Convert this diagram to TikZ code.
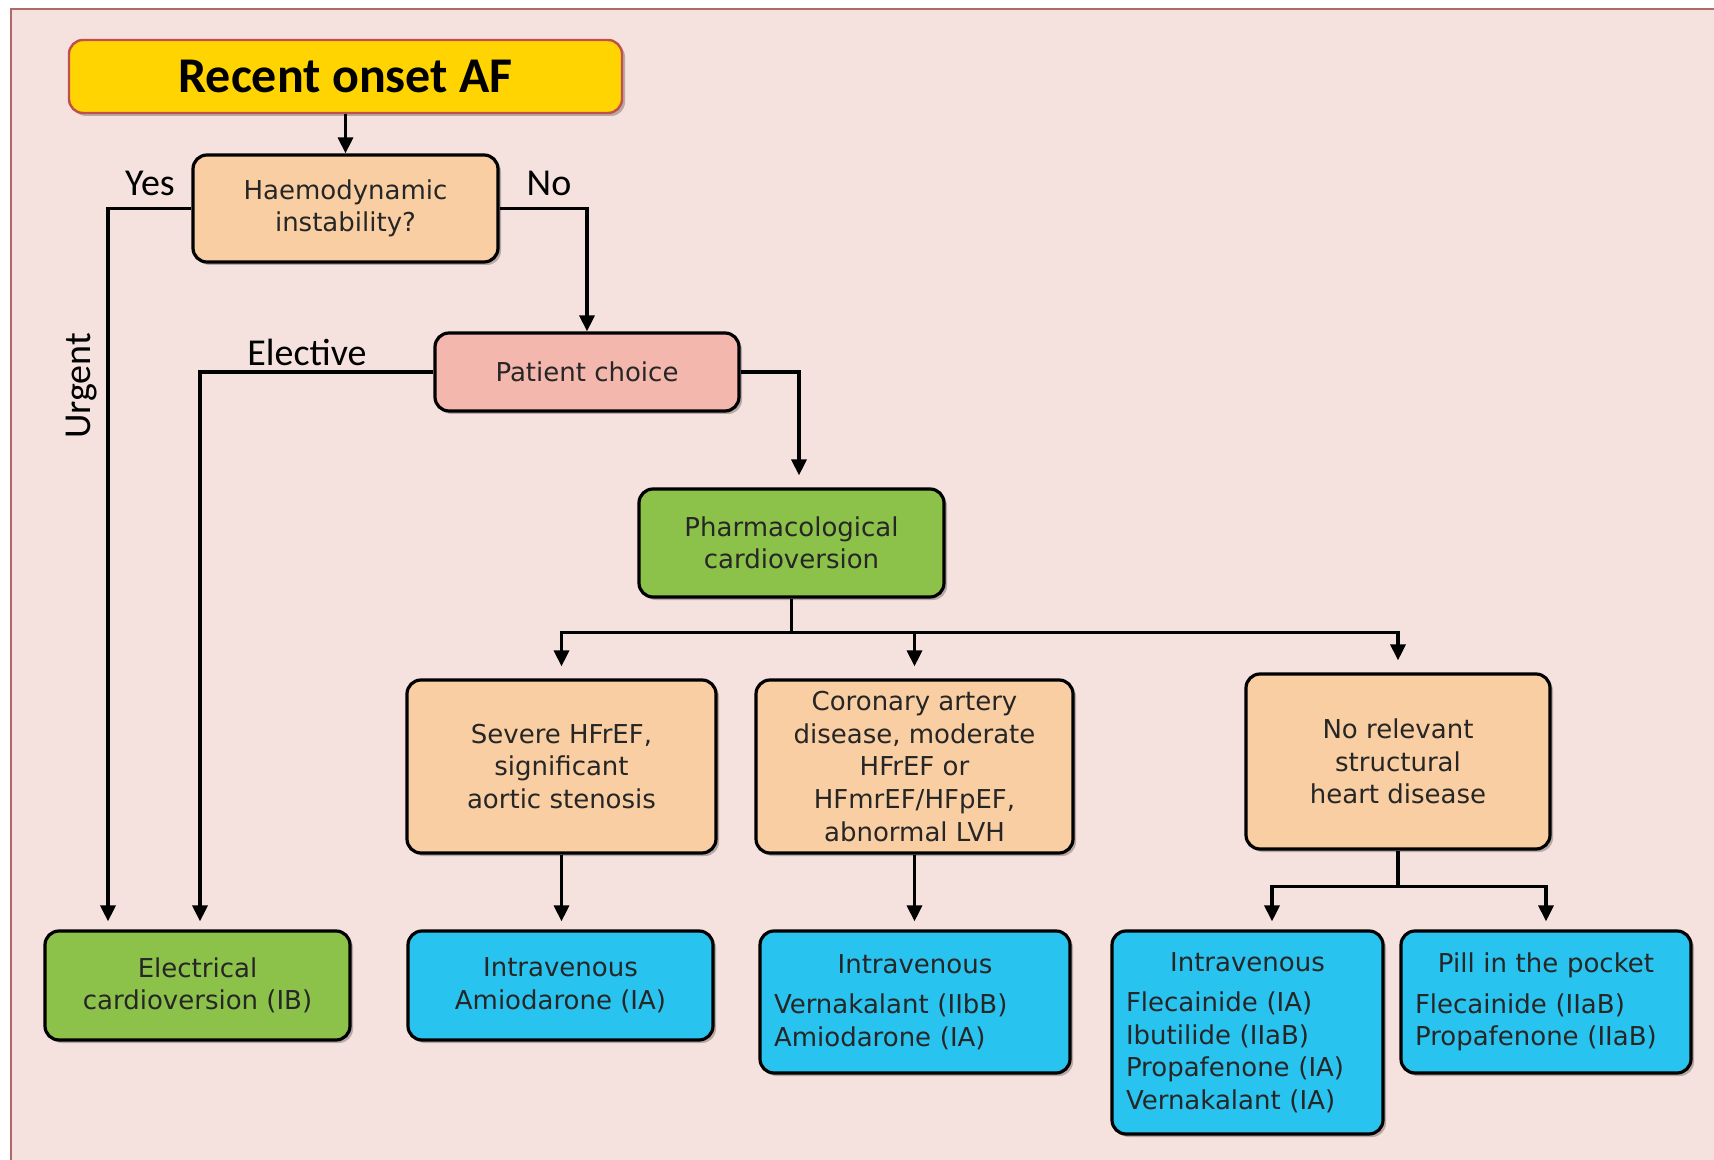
\documentclass[tikz,border=0pt]{standalone}
\usepackage{fontspec}
\setmainfont{DejaVu Sans}
\newfontfamily\calfont{Carlito}
\usepackage{tikz}
\usetikzlibrary{arrows.meta,shadows}

\definecolor{bgpink}{RGB}{245,226,222}
\definecolor{framered}{RGB}{176,104,104}
\definecolor{afyellow}{RGB}{255,212,0}
\definecolor{afborder}{RGB}{192,80,77}
\definecolor{peach}{RGB}{250,206,163}
\definecolor{salmon}{RGB}{244,183,174}
\definecolor{leaf}{RGB}{140,194,74}
\definecolor{sky}{RGB}{41,195,240}

\begin{document}
\begin{tikzpicture}[x=0.5pt,y=-0.5pt,
    box/.style={draw=black, line width=1.6pt, rounded corners=7pt, align=center,
      inner ysep=2pt, text=black!85, font=\fontsize{13}{16.3}\selectfont,
      drop shadow={shadow xshift=1.5pt,shadow yshift=-1.5pt,opacity=0.25,fill=black}},
    start/.style={box, fill=afyellow, draw=afborder, line width=1.2pt,
      text=black, font=\calfont\bfseries\fontsize{25}{28}\selectfont},
    ask/.style={box, fill=peach},
    choice/.style={box, fill=salmon},
    treat/.style={box, fill=leaf},
    drug/.style={box, fill=sky},
    druglist/.style={align=left, inner xsep=7pt},
    line/.style={line width=1.6pt},
    arr/.style={line, -{Triangle[length=8pt,width=7.5pt]}},
    lbl/.style={font=\calfont\fontsize{19}{22}\selectfont}]
  \useasboundingbox (0,0) rectangle (1714,1160);
  \fill[white] (0,0) rectangle (1714,1160);
  \draw[framered, line width=1pt, fill=bgpink] (11,9) rectangle (1740,1180);

  \node (af) [start, minimum width=276.5pt, minimum height=36.5pt] at (345.5,76.5) {Recent onset AF};
  \node (haemo) [ask, minimum width=152.5pt, minimum height=53.5pt] at (345.5,208.5) {Haemodynamic\\instability?};
  \node (pc) [choice, minimum width=152pt, minimum height=39pt] at (587,372) {Patient choice};
  \node (ph) [treat, minimum width=152.5pt, minimum height=54pt] at (791.5,543) {Pharmacological\\cardioversion};

  \node (sev) [ask, minimum width=154.5pt, minimum height=86.5pt] at (561.5,766.5) {Severe HFrEF,\\significant\\aortic stenosis};
  \node (cor) [ask, minimum width=158.5pt, minimum height=86.5pt] at (914.5,766.5) {Coronary artery\\disease, moderate\\HFrEF or\\HFmrEF/HFpEF,\\abnormal LVH};
  \node (nsh) [ask, minimum width=152pt, minimum height=87.5pt] at (1398,761.5) {No relevant\\structural\\heart disease};

  \node (elc) [treat, minimum width=152.5pt, minimum height=54.5pt] at (197.5,985.5) {Electrical\\cardioversion (IB)};
  \node (amio) [drug, minimum width=152.5pt, minimum height=54.5pt] at (560.5,985.5) {Intravenous\\Amiodarone (IA)};
  \node (vern) [drug, druglist, text width=141pt, minimum height=71pt] at (915,1002)
    {\hfill Intravenous\hfill\mbox{}\\[4pt]Vernakalant (IIbB)\\Amiodarone (IA)};
  \node (flec) [drug, druglist, text width=121.5pt, minimum height=101.5pt] at (1247.5,1032.5)
    {\hfill Intravenous\hfill\mbox{}\\[4pt]Flecainide (IA)\\Ibutilide (IIaB)\\Propafenone (IA)\\Vernakalant (IA)};
  \node (pill) [drug, druglist, text width=131pt, minimum height=71pt] at (1546,1002)
    {\hfill Pill in the pocket\hfill\mbox{}\\[4pt]Flecainide (IIaB)\\Propafenone (IIaB)};

  \node (yes) [lbl] at (150,183) {Yes};
  \node (no) [lbl] at (549,183) {No};
  \node (elective) [lbl] at (307,352) {Elective};
  \node (urgent) [lbl, rotate=90] at (82,386) {Urgent};

  \coordinate (split) at ([yshift=-17pt]ph.south);
  \coordinate (split2) at ([yshift=-18pt]nsh.south);

  \draw[arr] (af) -- (haemo);
  \draw[arr, shorten >=4pt] (haemo.west) -| ([xshift=-44.75pt]elc.north);
  \draw[arr] (haemo.east) -| (pc.north);
  \draw[arr, shorten >=4pt] (pc.west) -| ([xshift=1.25pt]elc.north);
  \draw[arr, shorten >=6pt] (pc.east) -| ([xshift=3.75pt]ph.north);
  \draw[line] (ph.south) -- (split);
  \draw[arr, shorten >=6pt] (split) -| (sev.north);
  \draw[arr, shorten >=6pt] (split) -| (cor.north);
  \draw[arr, shorten >=6pt] (split) -| (nsh.north);
  \draw[arr, shorten >=4pt] (sev.south) -- (sev.south |- amio.north);
  \draw[arr, shorten >=4pt] (cor.south) -- (cor.south |- vern.north);
  \draw[line] (nsh.south) -- (split2);
  \draw[arr, shorten >=4pt] (split2) -| ([xshift=12.25pt]flec.north);
  \draw[arr, shorten >=4pt] (split2) -| (pill.north);
\end{tikzpicture}
\end{document}
